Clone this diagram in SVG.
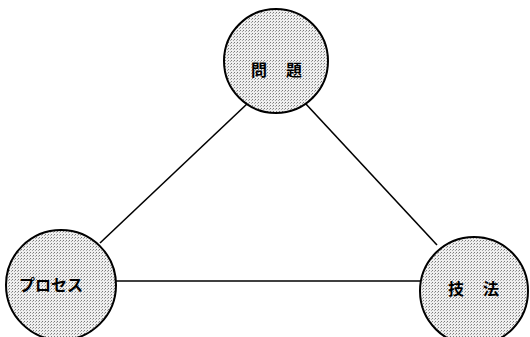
<svg xmlns="http://www.w3.org/2000/svg" width="530" height="337" viewBox="0 0 530 337">
<defs>
<pattern id="dots" width="3" height="3" patternUnits="userSpaceOnUse">
<rect width="3" height="3" fill="#efefef"/>
<rect x="0" y="0" width="1" height="1" fill="#7a7a7a"/>
<rect x="2" y="1" width="1" height="1" fill="#a8a8a8"/>
</pattern>
<style>
.node{fill:url(#dots);stroke:#000;stroke-width:2}
.edge{stroke:#000;stroke-width:1.6;fill:none}
.lbl{font-family:"Noto Sans CJK JP","Noto Sans",sans-serif;font-size:16px;font-weight:bold;fill:#000;text-anchor:middle}
</style>
</defs>
<rect width="530" height="337" fill="#fff"/>
<g id="connectors">
<line class="edge" x1="248" y1="103" x2="100" y2="243"/>
<line class="edge" x1="305" y1="103" x2="437" y2="245"/>
<line class="edge" x1="115" y1="281" x2="421" y2="281"/>
</g>
<g id="mondai">
<circle class="node" cx="276" cy="61" r="52"/>
<text class="lbl" x="259" y="76">問</text>
<text class="lbl" x="294" y="76">題</text>
</g>
<g id="process">
<circle class="node" cx="61" cy="285" r="55"/>
<text class="lbl" x="51" y="291">プロセス</text>
</g>
<g id="gihou">
<circle class="node" cx="474" cy="291" r="54"/>
<text class="lbl" x="456" y="295">技</text>
<text class="lbl" x="491" y="295">法</text>
</g>
</svg>
